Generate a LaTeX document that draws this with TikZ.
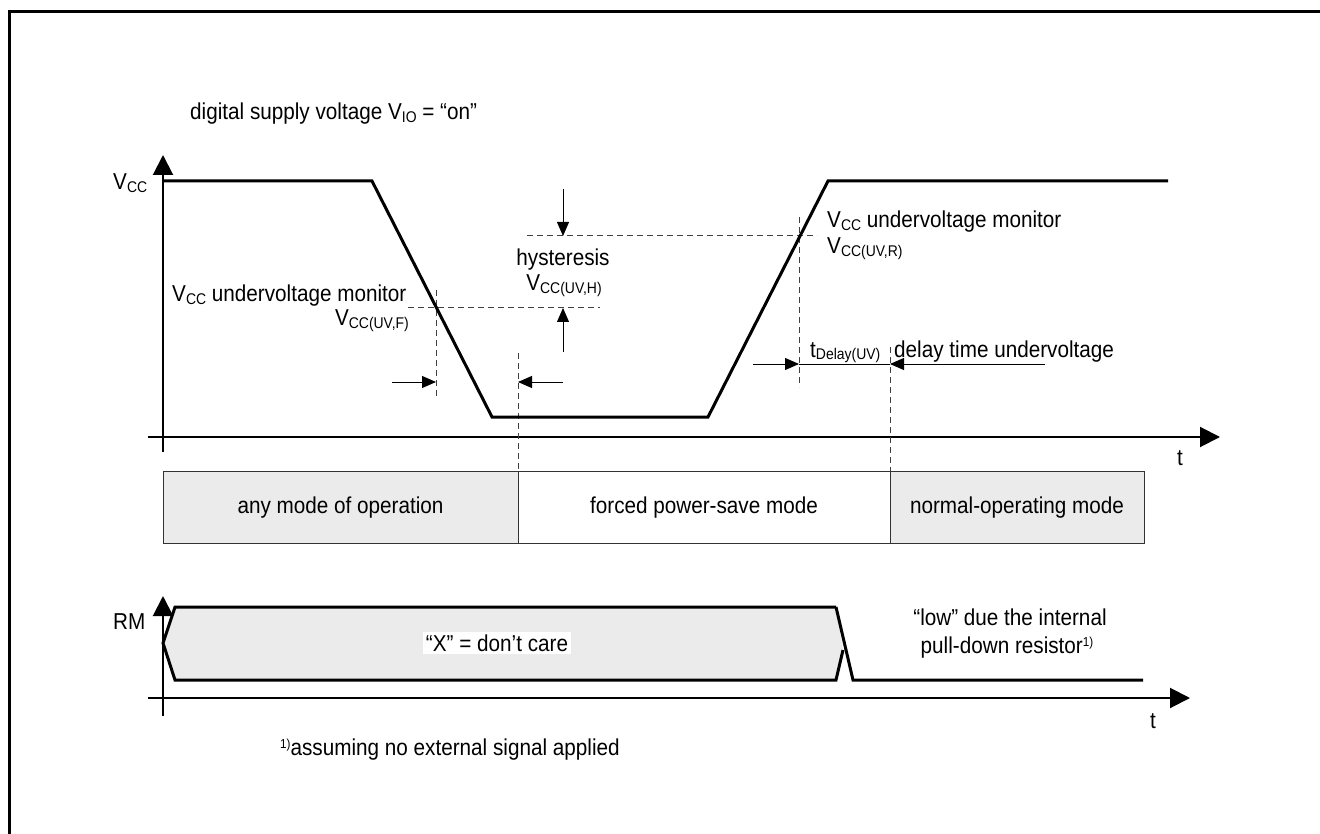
\documentclass[tikz,border=0pt]{standalone}
\usepackage{fontspec}
\setmainfont{Liberation Sans}[FakeStretch=0.9]
\usetikzlibrary{arrows.meta}
\newcommand\lo[1]{\raisebox{-2.5pt}{\fontsize{15.5}{15.5}\selectfont #1}}
\newcommand\hi[1]{\raisebox{7pt}{\fontsize{13}{13}\selectfont #1}}
\definecolor{boxgray}{HTML}{EBEBEB}
\begin{document}
\begin{tikzpicture}[x=1pt,y=-1pt,
  txt/.style={inner sep=0pt,font=\fontsize{23}{25}\selectfont},
  sig/.style={line width=3pt,line join=miter},
  axarrow/.style={line width=2pt,-{Triangle[length=20pt,width=20pt]}},
  dim/.style={line width=1pt,-{Triangle[length=14pt,width=12pt]}},
  dsh/.style={line width=1pt,dash pattern=on 6pt off 4pt,draw=black!75},
  modebox/.style={draw=black!80,line width=1pt}]
\useasboundingbox (0,0) rectangle (1320,834);
% frame
\draw[line width=3pt] (9.5,840) -- (9.5,11.5) -- (1330,11.5);

% ---------- upper diagram ----------
\coordinate (vaxB) at (163,452);
\coordinate (vaxT) at (163,155);
\coordinate (haxL) at (148,437);
\coordinate (haxR) at (1220,437);
\draw[axarrow] (vaxB) -- (vaxT);
\draw[axarrow] (haxL) -- (haxR);
\node[txt,anchor=base] (t1) at (1180,465) {t};
\node[txt,anchor=base west] (vcc) at (113,190) {V\lo{CC}};
\node[txt,anchor=base west] (title) at (190,120) {digital supply voltage V\lo{IO} = “on”};

% thresholds
\draw[dsh] (408,308) -- (600,308);
\draw[dsh] (527,236) -- (817,236);
\draw[dsh] (436,290) -- (436,398);
\draw[dsh] (518,353) -- (518,471);
\draw[dsh] (799,217) -- (799,387);
\draw[dsh] (890,347) -- (890,471);

% signal
\draw[sig] (163,181) -- (372,181) -- (492,417) -- (708,417) -- (828,181) -- (1168,181);

% dimension arrows
\coordinate (a1s) at (392,382); \coordinate (a1e) at (436,382);
\coordinate (a2s) at (563,382); \coordinate (a2e) at (518,382);
\draw[dim] (a1s) -- (a1e);
\draw[dim] (a2s) -- (a2e);
\coordinate (h1s) at (563,189); \coordinate (h1e) at (563,236);
\coordinate (h2s) at (563,352); \coordinate (h2e) at (563,308);
\draw[dim] (h1s) -- (h1e);
\draw[dim] (h2s) -- (h2e);
\coordinate (d1s) at (753,364); \coordinate (d1e) at (799,364);
\coordinate (d2s) at (1045,364); \coordinate (d2e) at (890,364);
\draw[dim] (d1s) -- (d1e);
\draw[dim] (d2s) -- (d2e);
\draw[line width=1pt] (d1e) -- (d2e);

% labels
\node[txt,anchor=base west] (monF) at (172,302) {V\lo{CC} undervoltage monitor};
\node[txt,anchor=base east] (vF) at (409,326) {V\lo{CC(UV,F)}};
\node[txt,anchor=base] (hys) at (563,266) {hysteresis};
\node[txt,anchor=base] (vH) at (564,291) {V\lo{CC(UV,H)}};
\node[txt,anchor=base west] (monR) at (827,228) {V\lo{CC} undervoltage monitor};
\node[txt,anchor=base west] (vR) at (827,254) {V\lo{CC(UV,R)}};
\node[txt,anchor=base west] (tdel) at (810,357) {t\lo{Delay(UV)}};
\node[txt,anchor=base west] (dtu) at (894,357) {delay time undervoltage};

% mode boxes
\draw[modebox,fill=boxgray] (163,471) rectangle (518,543);
\draw[modebox,fill=white] (518,471) rectangle (890,543);
\draw[modebox,fill=boxgray] (890,471) rectangle (1144,543);
\node[txt] (m1) at (340.5,508) {any mode of operation};
\node[txt] (m2) at (704,508) {forced power-save mode};
\node[txt] (m3) at (1017,508) {normal-operating mode};

% ---------- lower diagram ----------
\coordinate (rvB) at (163,716);
\coordinate (rvT) at (163,596);
\coordinate (rhL) at (148,698);
\coordinate (rhR) at (1190,698);
\draw[axarrow] (rvB) -- (rvT);
\draw[axarrow] (rhL) -- (rhR);
\node[txt,anchor=base] (t2) at (1153,728) {t};
\node[txt,anchor=base west] (rm) at (113,629) {RM};

\draw[sig,fill=boxgray] (836,607) -- (175,607) -- (163,643) -- (175,680) -- (836,680) -- (843,650);
\draw[sig] (836,607) -- (853,680) -- (1143,680);
\node[txt,fill=white,inner sep=3pt] (xdc) at (497,643) {“X” = don’t care};
\node[txt,anchor=base] (low1) at (1010,625) {“low” due the internal};
\node[txt,anchor=base] (low2) at (1007,653) {pull-down resistor\hi{1)}};
\node[txt,anchor=base west] (foot) at (280,755) {\hi{1)}assuming no external signal applied};
\end{tikzpicture}
\end{document}
